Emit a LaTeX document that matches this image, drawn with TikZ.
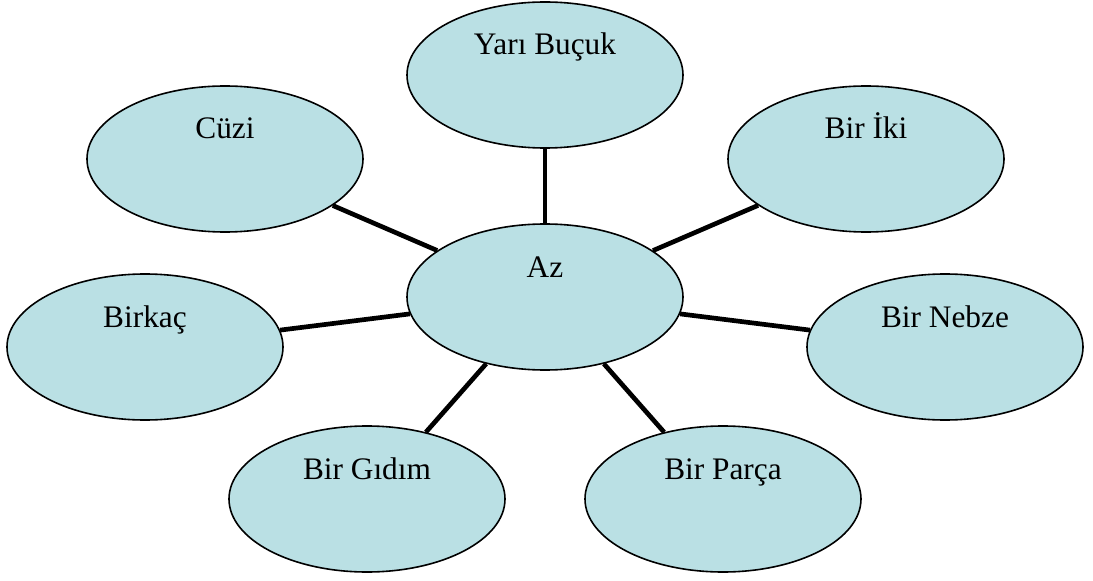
\documentclass[tikz,border=0pt]{standalone}
\usepackage{fontspec}
\setmainfont{Liberation Serif}
\usepackage{tikz}
\usetikzlibrary{shapes.geometric}
\definecolor{bubble}{RGB}{186,224,228}

\begin{document}
\begin{tikzpicture}[x=0.75pt,y=-0.75pt,
	oval/.style={ellipse,draw,line width=1.2pt,fill=bubble,minimum width=207pt,minimum height=109.5pt,inner sep=0pt,text height=16pt,text depth=46pt,font=\fontsize{23.5}{28}\selectfont}]
			
			\useasboundingbox (0,0) rectangle (1093,581);
			
			\node[oval] (0) at (545,297) {Az};
			\node[oval] (1) at (545,75) {Yarı Buçuk};
			\node[oval] (2) at (866,159) {Bir İki};
			\node[oval] (3) at (945,347) {Bir Nebze};
			\node[oval] (4) at (723,499) {Bir Parça};
			\node[oval] (5) at (367,499) {Bir Gıdım};
			\node[oval] (6) at (145,347) {Birkaç};
			\node[oval] (7) at (225,159) {Cüzi};
			
			\draw[line width=3.5pt] (0)--(1);
			\draw[line width=3.5pt] (0)--(2);
			\draw[line width=3.5pt] (0)--(3);
			\draw[line width=3.5pt] (0)--(4);
			\draw[line width=3.5pt] (0)--(5);
			\draw[line width=3.5pt] (0)--(6);
			\draw[line width=3.5pt] (0)--(7);
			
		\end{tikzpicture}
\end{document}
